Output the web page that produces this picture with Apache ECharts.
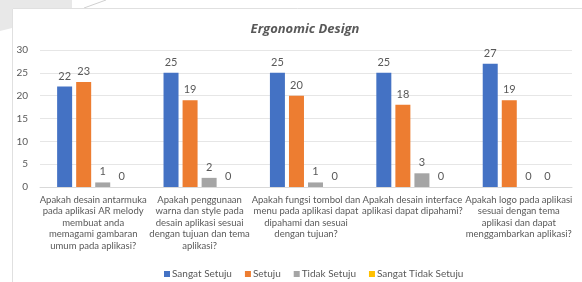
<!DOCTYPE html>
<html>
<head>
<meta charset="utf-8">
<script src="https://cdn.jsdelivr.net/npm/echarts@6/dist/echarts.min.js"></script>
<style>
  html, body { margin: 0; padding: 0; background: #fff; }
  #chart { width: 582px; height: 282px; }
</style>
</head>
<body>
<div id="chart"></div>
<script>
// data
var questions = [
    "Apakah desain antarmuka\npada aplikasi AR melody\nmembuat anda\nmemagami gambaran\numum pada aplikasi?",
    "Apakah penggunaan\nwarna dan style pada\ndesain aplikasi sesuai\ndengan tujuan dan tema\naplikasi?",
    "Apakah fungsi tombol dan\nmenu pada aplikasi dapat\ndipahami dan sesuai\ndengan tujuan?",
    "Apakah desain interface\naplikasi dapat dipahami?",
    "Apakah logo pada aplikasi\nsesuai dengan tema\naplikasi dan dapat\nmenggambarkan aplikasi?"
];
var sangat_setuju = [22, 25, 25, 25, 27];
var setuju = [23, 19, 20, 18, 19];
var tidak_setuju = [1, 2, 1, 3, 0];
var sangat_tidak_setuju = [0, 0, 0, 0, 0];
var series_names = ["Sangat Setuju", "Setuju", "Tidak Setuju", "Sangat Tidak Setuju"];
var series_colors = ['#4472C4', '#ED7D31', '#A5A5A5', '#FFC000'];

var txt_color = '#595959';
var font = 'Lato, "Open Sans", sans-serif';

var chart = echarts.init(document.getElementById("chart"));

function make_bar(name, data) {
    return {
        name: name,
        type: 'bar',
        barWidth: 15,
        barGap: '27%',
        data: data,
        label: {
            show: true,
            position: 'top',
            distance: 5,
            fontSize: 11,
            fontFamily: font,
            color: txt_color
        }
    };
}

var option = {
    color: series_colors,
    animation: false,
    title: {
        text: 'Ergonomic Design',
        left: 300,
        textAlign: 'center',
        top: 18,
        textStyle: {
            fontSize: 13,
            fontStyle: 'italic',
            fontWeight: 'bold',
            fontFamily: '"Open Sans", Lato, sans-serif',
            color: txt_color
        }
    },
    legend: {
        data: series_names,
        left: 159,
        top: 264,
        icon: 'rect',
        itemWidth: 6,
        itemHeight: 6,
        itemGap: 13,
        textStyle: { fontSize: 10, fontFamily: font, color: txt_color, padding: [0, 0, 0, -3] }
    },
    grid: {
        left: 40,
        right: 10,
        top: 50,
        bottom: 95,
        containLabel: false
    },
    xAxis: {
        type: 'category',
        data: questions,
        axisTick: { show: false },
        axisLine: { lineStyle: { color: '#d9d9d9' } },
        axisLabel: {
            interval: 0,
            margin: 7,
            fontSize: 9.5,
            lineHeight: 11.5,
            fontFamily: font,
            color: txt_color
        }
    },
    yAxis: {
        type: 'value',
        min: 0,
        max: 30,
        interval: 5,
        axisLabel: { fontSize: 10, fontFamily: font, color: txt_color, margin: 12 },
        splitLine: { lineStyle: { color: '#e6e6e6' } }
    },
    graphic: [
        {
            type: 'polygon',
            z: -10,
            shape: { points: [[0, 0], [72, 0], [72, 8], [12, 8], [12, 28], [0, 31]] },
            style: { fill: '#e8e8e8' }
        },
        {
            type: 'line',
            z: -10,
            shape: { x1: 106, y1: 0, x2: 84, y2: 8 },
            style: { stroke: '#d0d0d0', lineWidth: 1 }
        },
        {
            type: 'rect',
            z: -9,
            shape: { x: 12.5, y: 8.5, width: 600, height: 300 },
            style: { fill: '#fff', stroke: '#e0e0e0', lineWidth: 1 }
        }
    ],
    series: [
        make_bar(series_names[0], sangat_setuju),
        make_bar(series_names[1], setuju),
        make_bar(series_names[2], tidak_setuju),
        make_bar(series_names[3], sangat_tidak_setuju)
    ]
};
chart.setOption(option);
</script>
</body>
</html>
